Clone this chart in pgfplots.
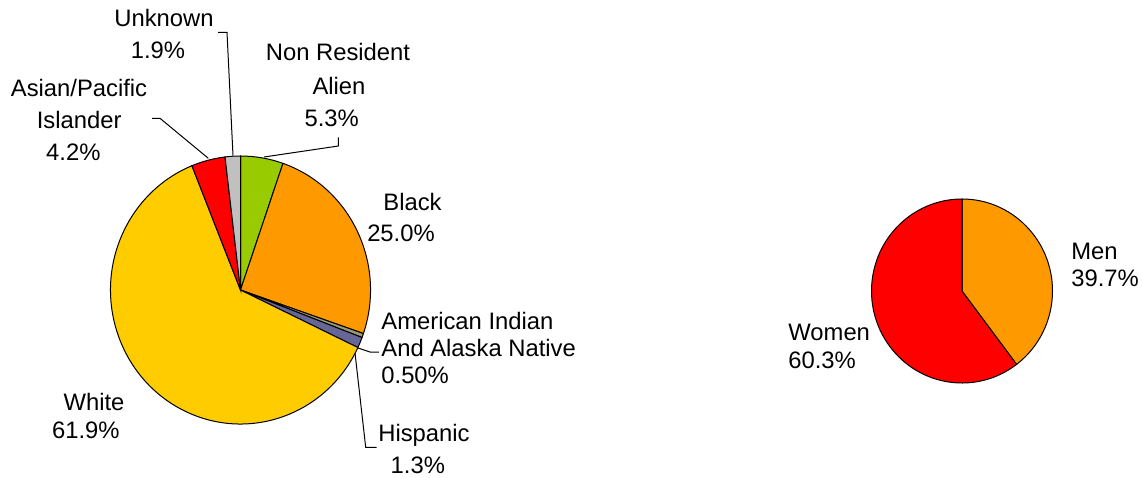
\documentclass[border=0pt]{standalone}
\usepackage{pgfplots}
\pgfplotsset{compat=1.18}
\usepackage{fontspec}
\setmainfont{Liberation Sans}
\definecolor{cGreen}{HTML}{99CC00}
\definecolor{cOrange}{HTML}{FF9900}
\definecolor{cOlive}{HTML}{999977}
\definecolor{cSlate}{HTML}{666699}
\definecolor{cYellow}{HTML}{FFCC00}
\definecolor{cRed}{HTML}{FF0000}
\definecolor{cGrey}{HTML}{C0C0C0}
% #1 cx, #2 cy, #3 rx, #4 ry, #5 cumulative start, #6 value, #7 total, #8 colour
\newcommand{\slice}[8]{%
  \filldraw[fill=#8, draw=black, line width=0.5bp]
    (axis cs:#1,#2) -- ++({90-(#5)/(#7)*360}:#3 and #4)
    arc[start angle={90-(#5)/(#7)*360}, end angle={90-((#5)+(#6))/(#7)*360}, x radius=#3, y radius=#4]
    -- cycle;}
\begin{document}
\begin{tikzpicture}
\begin{axis}[
  width=571bp, height=239bp, scale only axis,
  xmin=0, xmax=1142, ymin=0, ymax=478, y dir=reverse,
  hide axis, clip=false,
]
\path (axis cs:0,0) rectangle (axis cs:1142,478);
% ---- left pie: ethnicity (percent) ----
\slice{240.5}{290}{65bp}{67bp}{0}{5.3}{100.1}{cGreen}
\slice{240.5}{290}{65bp}{67bp}{5.3}{25.0}{100.1}{cOrange}
\slice{240.5}{290}{65bp}{67bp}{30.3}{0.5}{100.1}{cOlive}
\slice{240.5}{290}{65bp}{67bp}{30.8}{1.3}{100.1}{cSlate}
\slice{240.5}{290}{65bp}{67bp}{32.1}{61.9}{100.1}{cYellow}
\slice{240.5}{290}{65bp}{67bp}{94.0}{4.2}{100.1}{cRed}
\slice{240.5}{290}{65bp}{67bp}{98.2}{1.9}{100.1}{cGrey}
% ---- right pie: gender (percent) ----
\slice{962}{291}{45.25bp}{46bp}{0}{39.7}{100}{cOrange}
\slice{962}{291}{45.25bp}{46bp}{39.7}{60.3}{100}{cRed}
% ---- leader lines ----
\draw[line width=0.5bp] (axis cs:218,32.3) -- (axis cs:227,32.3) -- (axis cs:233,155.5);
\draw[line width=0.5bp] (axis cs:338.3,137.3) -- (axis cs:338.3,146) -- (axis cs:264,157);
\draw[line width=0.5bp] (axis cs:152,118.3) -- (axis cs:160,118.3) -- (axis cs:208.3,158.3);
\draw[line width=0.5bp] (axis cs:379,352) -- (axis cs:370,352) -- (axis cs:358,348);
\draw[line width=0.5bp] (axis cs:355,353) -- (axis cs:365.7,447.3) -- (axis cs:376.7,447.3);
% ---- labels ----
\begin{scope}[every node/.style={inner sep=0pt, font=\fontsize{11.9bp}{14bp}\selectfont}]
\node[anchor=base] at (axis cs:164,26.7) {Unknown};
\node[anchor=base] at (axis cs:158,58.3) {1.9\%};
\node[anchor=base] at (axis cs:338,61) {Non Resident};
\node[anchor=base] at (axis cs:339,94.3) {Alien};
\node[anchor=base] at (axis cs:331.7,126.7) {5.3\%};
\node[anchor=base] at (axis cs:79,96.7) {Asian/Pacific};
\node[anchor=base] at (axis cs:79.2,128.3) {Islander};
\node[anchor=base] at (axis cs:73.3,160) {4.2\%};
\node[anchor=base] at (axis cs:412.5,210) {Black};
\node[anchor=base] at (axis cs:401,241.7) {25.0\%};
\node[anchor=base west] at (axis cs:381,329.3) {American Indian};
\node[anchor=base west] at (axis cs:381,356.7) {And Alaska Native};
\node[anchor=base west] at (axis cs:381,383.3) {0.50\%};
\node[anchor=base] at (axis cs:424,441.7) {Hispanic};
\node[anchor=base] at (axis cs:417.8,473.3) {1.3\%};
\node[anchor=base] at (axis cs:94,410) {White};
\node[anchor=base] at (axis cs:85.8,438.3) {61.9\%};
\node[anchor=base west] at (axis cs:1071,259) {Men};
\node[anchor=base west] at (axis cs:1071,286.7) {39.7\%};
\node[anchor=base west] at (axis cs:788,340) {Women};
\node[anchor=base west] at (axis cs:788,368.3) {60.3\%};
\end{scope}
\end{axis}
\end{tikzpicture}
\end{document}
